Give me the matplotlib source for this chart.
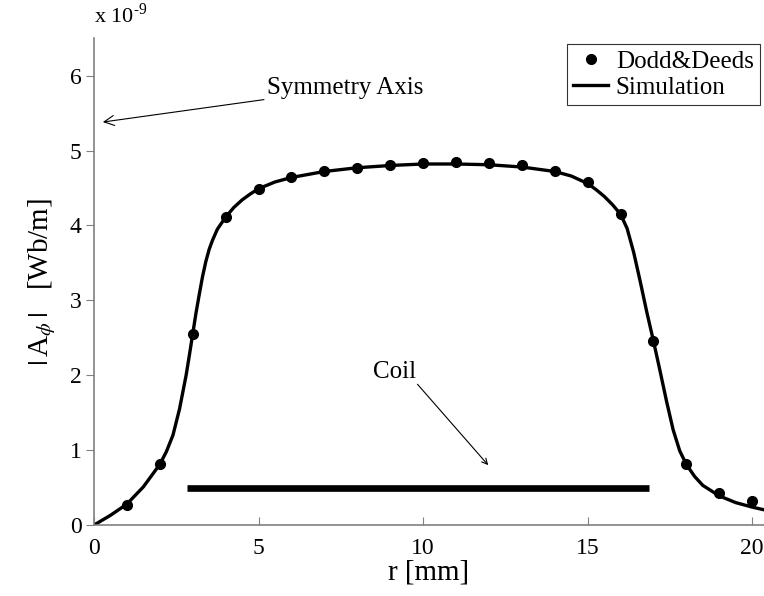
import matplotlib
matplotlib.use("Agg")
import matplotlib.pyplot as plt

plt.rcParams["font.family"] = ["Liberation Serif", "DejaVu Serif"]
plt.rcParams["mathtext.fontset"] = "stix"
plt.rcParams["axes.unicode_minus"] = False

# Dodd & Deeds analytical points (values in 1e-9 Wb/m)
dd_r = [1, 2, 3, 4, 5, 6, 7, 8, 9, 10, 11, 12, 13, 14, 15, 16, 17, 18, 19, 20]
dd_a = [0.27, 0.81, 2.55, 4.11, 4.49, 4.65, 4.73, 4.77, 4.81, 4.83, 4.84, 4.83,
        4.80, 4.73, 4.58, 4.15, 2.46, 0.82, 0.43, 0.32]

# simulation curve
sim_r = [0, 0.5, 1, 1.5, 2, 2.2, 2.4, 2.6, 2.8, 2.9, 3.0, 3.1, 3.2, 3.3, 3.4,
         3.5, 3.6, 3.75, 4, 4.25, 4.5, 4.75, 5, 5.5, 6, 7, 8, 9, 10, 11, 12,
         13, 14, 14.5, 15, 15.25, 15.5, 15.75, 16, 16.2, 16.4, 16.6, 16.8, 17,
         17.2, 17.4, 17.6, 17.8, 18, 18.25, 18.5, 19, 19.5, 20, 20.4]
sim_a = [0, 0.13, 0.28, 0.51, 0.81, 0.98, 1.2, 1.55, 2.0, 2.27, 2.55, 2.83,
         3.08, 3.32, 3.52, 3.68, 3.8, 3.95, 4.11, 4.24, 4.34, 4.42, 4.49, 4.58,
         4.64, 4.72, 4.77, 4.80, 4.82, 4.82, 4.81, 4.78, 4.72, 4.66, 4.56,
         4.48, 4.39, 4.28, 4.15, 3.96, 3.64, 3.25, 2.84, 2.46, 2.06, 1.65,
         1.27, 0.99, 0.81, 0.65, 0.53, 0.39, 0.30, 0.24, 0.20]

# coil position
coil_r = [2.83, 16.87]
coil_a = [0.49, 0.49]

fig = plt.figure(figsize=(7.64, 5.96), dpi=100)
ax = fig.add_axes([0.123, 0.119, 0.877, 0.817])

ax.plot(sim_r, sim_a, color="black", lw=2.4, label="Simulation", zorder=2,
        solid_joinstyle="round")
ax.plot(dd_r, dd_a, "o", color="black", ms=7, label="Dodd&Deeds", zorder=3)
ax.plot(coil_r, coil_a, color="black", lw=4.8, solid_capstyle="butt")

ax.set_xlim(0, 20.36)
ax.set_ylim(0, 6.5)
ax.set_xticks([0, 5, 10, 15, 20])
ax.set_yticks([0, 1, 2, 3, 4, 5, 6])

for s in ["top", "right"]:
    ax.spines[s].set_visible(False)
for s in ["left", "bottom"]:
    ax.spines[s].set_color("#808080")
    ax.spines[s].set_linewidth(1.2)
ax.tick_params(axis="y", direction="out", length=6, color="#808080",
               labelsize=17, pad=3)
ax.tick_params(axis="x", direction="in", length=6, color="#808080",
               labelsize=17, pad=9)

ax.set_xlabel("r [mm]", fontsize=21, labelpad=1)
ax.set_ylabel(r"$|\,\mathregular{A}_{\phi}\,|$   [Wb/m]", fontsize=21, labelpad=8)
ax.text(0, 1.022, r"x 10$^{\mathregular{\text{-}9}}$", transform=ax.transAxes,
        fontsize=16, ha="left", va="bottom")

ax.annotate("Symmetry Axis", xy=(0.27, 5.38), xytext=(5.25, 5.83),
            fontsize=18, va="center",
            arrowprops=dict(arrowstyle="->", color="black", lw=0.8,
                            shrinkA=0, shrinkB=0))
ax.text(8.47, 2.04, "Coil", fontsize=18, va="center")
ax.annotate("", xy=(11.98, 0.80), xytext=(9.83, 1.88),
            arrowprops=dict(arrowstyle="->", color="black", lw=0.8,
                            shrinkA=0, shrinkB=0))

h, l = ax.get_legend_handles_labels()
leg = ax.legend([h[1], h[0]], [l[1], l[0]], loc="upper right",
                bbox_to_anchor=(0.994, 0.988), borderaxespad=0, fontsize=18,
                frameon=True, fancybox=False, handlelength=1.4,
                handletextpad=0.3, borderpad=0.25, labelspacing=0.15)
leg.get_frame().set_edgecolor("black")
leg.get_frame().set_linewidth(0.8)

fig.savefig("out.png", dpi=100)
